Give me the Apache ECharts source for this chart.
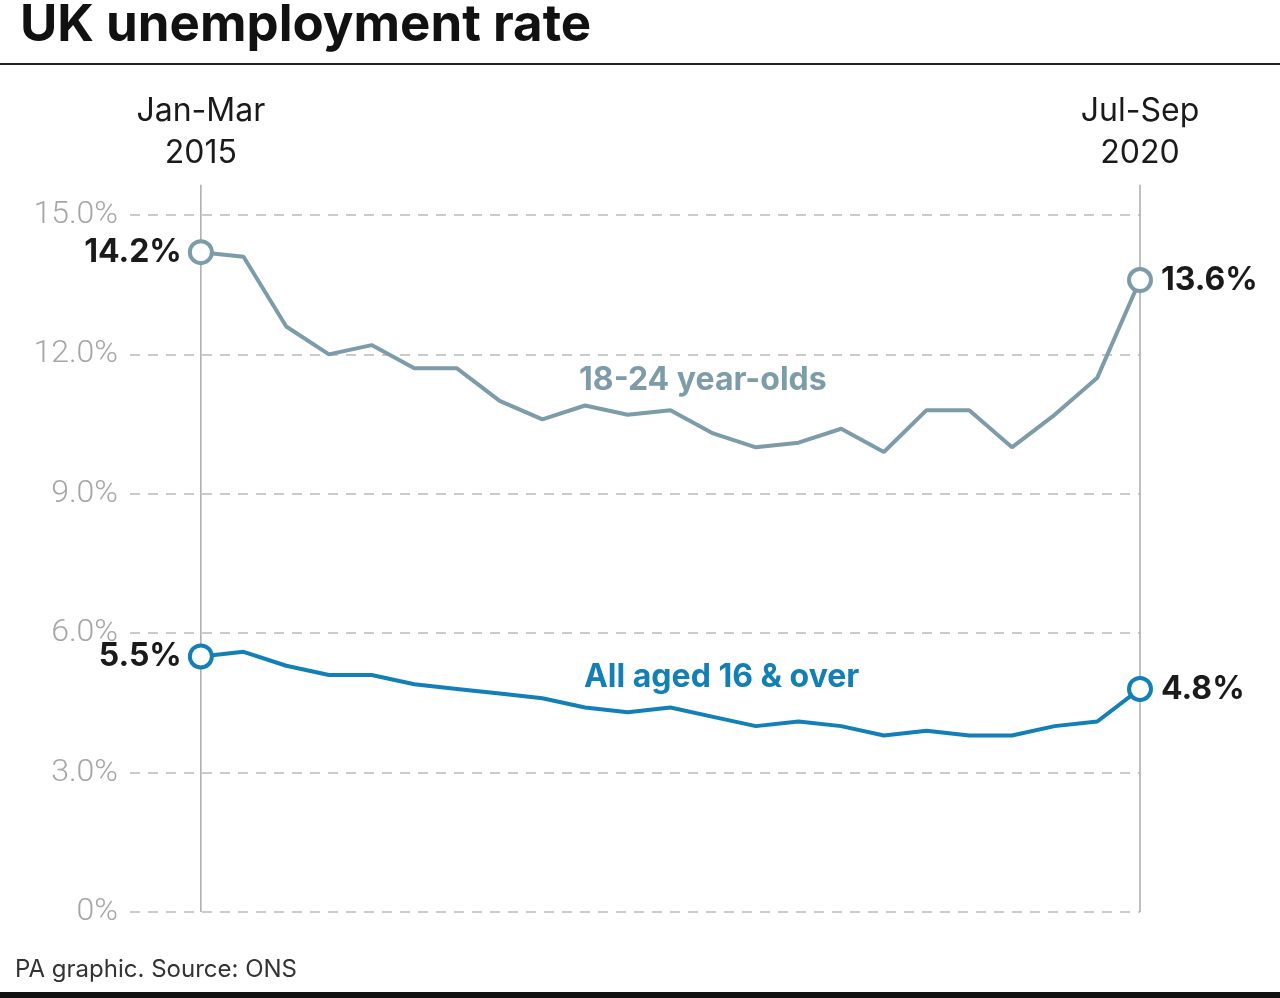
<!DOCTYPE html>
<html>
<head>
<meta charset="utf-8">
<title>UK unemployment rate</title>
<script src="https://cdn.jsdelivr.net/npm/echarts@6/dist/echarts.min.js"></script>
<style>
  html, body { margin: 0; padding: 0; background: #fff; }
  #main { width: 1280px; height: 998px; }
</style>
</head>
<body>
<div id="main"></div>
<script>
// quarterly, Jan-Mar 2015 .. Jul-Sep 2020
var quarters = ['Jan-Mar 2015','Apr-Jun 2015','Jul-Sep 2015','Oct-Dec 2015',
  'Jan-Mar 2016','Apr-Jun 2016','Jul-Sep 2016','Oct-Dec 2016',
  'Jan-Mar 2017','Apr-Jun 2017','Jul-Sep 2017','Oct-Dec 2017',
  'Jan-Mar 2018','Apr-Jun 2018','Jul-Sep 2018','Oct-Dec 2018',
  'Jan-Mar 2019','Apr-Jun 2019','Jul-Sep 2019','Oct-Dec 2019',
  'Jan-Mar 2020','Apr-Jun 2020','Jul-Sep 2020'];
var youth = [14.2,14.1,12.6,12.0,12.2,11.7,11.7,11.0,10.6,10.9,10.7,10.8,10.3,10.0,10.1,10.4,9.9,10.8,10.8,10.0,10.7,11.5,13.6];
var allAged = [5.5,5.6,5.3,5.1,5.1,4.9,4.8,4.7,4.6,4.4,4.3,4.4,4.2,4.0,4.1,4.0,3.8,3.9,3.8,3.8,4.0,4.1,4.8];
var yTicks = [0, 3, 6, 9, 12, 15];

var youthColor = '#7d9ca8';
var allColor = '#137fb7';
var last = quarters.length - 1;

function buildData(values, color) {
  return values.map(function (v, i) {
    var item = { value: [i, v] };
    if (i === 0 || i === last) {
      item.symbol = 'circle';
      item.label = {
        show: true,
        position: i === 0 ? 'left' : 'right',
        distance: i === 0 ? 6 : 8,
        formatter: v.toFixed(1) + '%',
        color: '#1a1a1a', fontSize: 32, fontWeight: 'bold',
        fontFamily: 'Inter', letterSpacing: -1
      };
    } else {
      item.symbol = 'none';
    }
    return item;
  });
}

var chart = echarts.init(document.getElementById('main'));
chart.setOption({
  animation: false,
  grid: { left: 130, right: 140, top: 215, bottom: 86 },
  xAxis: {
    type: 'value', min: -1.66, max: last,
    axisLine: { show: false }, axisTick: { show: false },
    axisLabel: { show: false }, splitLine: { show: false }
  },
  yAxis: {
    type: 'value', min: 0, max: 15, interval: 3,
    axisLine: { show: false }, axisTick: { show: false },
    axisLabel: {
      margin: 12,
      formatter: function (v) { return v === 0 ? '0%' : v.toFixed(1) + '%'; },
      color: '#a6a6a6', fontSize: 32, fontFamily: 'Roboto', fontWeight: 300, letterSpacing: -1
    },
    splitLine: { lineStyle: { color: '#bbbbbb', type: [10, 8], width: 1.5 } }
  },
  series: [
    {
      name: '18-24 year-olds', type: 'line', data: buildData(youth, youthColor),
      showAllSymbol: true, symbolSize: 22,
      lineStyle: { color: youthColor, width: 4 },
      itemStyle: { color: '#fff', borderColor: youthColor, borderWidth: 4 },
      z: 3
    },
    {
      name: 'All aged 16 & over', type: 'line', data: buildData(allAged, allColor),
      showAllSymbol: true, symbolSize: 22,
      lineStyle: { color: allColor, width: 4 },
      itemStyle: { color: '#fff', borderColor: allColor, borderWidth: 4 },
      z: 3
    }
  ]
});

// decorations placed from the chart's own scales
var x0 = chart.convertToPixel({ gridIndex: 0 }, [0, 0]);
var x1 = chart.convertToPixel({ gridIndex: 0 }, [last, 0]);
var yTop = chart.convertToPixel({ gridIndex: 0 }, [0, 15.65])[1];
var youthLbl = chart.convertToPixel({ gridIndex: 0 }, [11.76, 11.45]);
var allLbl = chart.convertToPixel({ gridIndex: 0 }, [12.2, 5.06]);
var headFont = { fontSize: 32, fontFamily: 'Inter', fill: '#1a1a1a', align: 'center', lineHeight: 42 };

chart.setOption({
  graphic: [
    { type: 'text', left: 20, top: 0, style: { text: 'UK unemployment rate', fontSize: 51, fontWeight: 'bold', fontFamily: 'Inter', fill: '#111', letterSpacing: -1 } },
    { type: 'rect', shape: { x: 0, y: 63, width: 1280, height: 2 }, style: { fill: '#222' } },
    { type: 'rect', shape: { x: 0, y: 992, width: 1280, height: 6 }, style: { fill: '#111' } },
    { type: 'text', left: 15, top: 958, style: { text: 'PA graphic. Source: ONS', fontSize: 24, fontFamily: 'Inter', fill: '#333' } },
    { type: 'line', z: 1, shape: { x1: x0[0], y1: yTop, x2: x0[0], y2: x0[1] }, style: { stroke: '#aaa', lineWidth: 1.5 } },
    { type: 'line', z: 1, shape: { x1: x1[0], y1: yTop, x2: x1[0], y2: x1[1] }, style: { stroke: '#aaa', lineWidth: 1.5 } },
    { type: 'text', x: x0[0], y: 90, style: Object.assign({ text: 'Jan-Mar\n2015' }, headFont) },
    { type: 'text', x: x1[0], y: 90, style: Object.assign({ text: 'Jul-Sep\n2020' }, headFont) },
    { type: 'text', x: youthLbl[0], y: youthLbl[1], style: { text: '18-24 year-olds', fontSize: 32, fontWeight: 'bold', fontFamily: 'Inter', fill: youthColor, align: 'center', verticalAlign: 'middle', letterSpacing: -0.5 } },
    { type: 'text', x: allLbl[0], y: allLbl[1], style: { text: 'All aged 16 & over', fontSize: 32, fontWeight: 'bold', fontFamily: 'Inter', fill: allColor, align: 'center', verticalAlign: 'middle', letterSpacing: -0.5 } }
  ]
});
</script>
</body>
</html>
